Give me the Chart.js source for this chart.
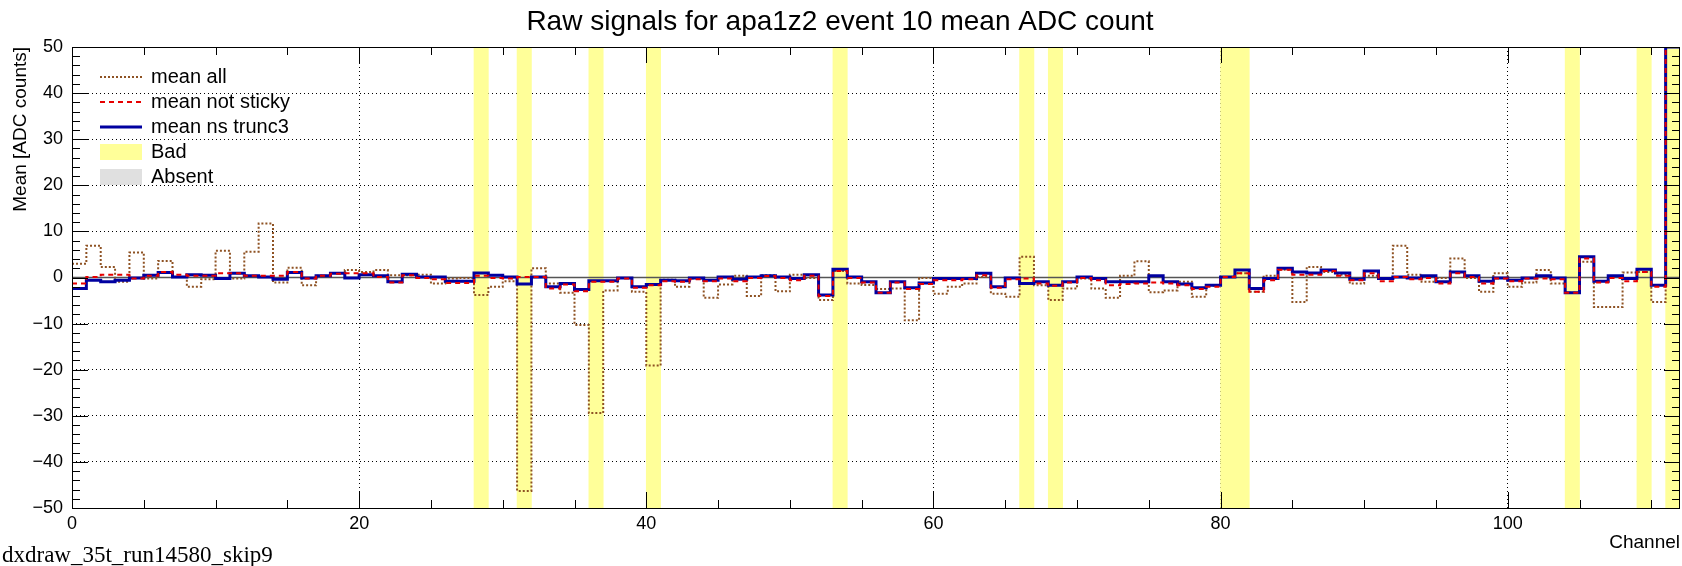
<!DOCTYPE html>
<html>
<head>
<meta charset="utf-8">
<script src="https://cdn.jsdelivr.net/npm/chart.js@4.4.0/dist/chart.umd.min.js"></script>
<style>
  html, body { margin: 0; padding: 0; background: #fff; }
  #wrap { position: relative; width: 1682px; height: 566px; }
  #footer { position: absolute; left: 2px; top: 543px; font: 23px "Liberation Serif", serif; line-height: 23px; color: #000; white-space: nowrap; }
</style>
</head>
<body>
<div id="wrap">
  <canvas id="rawChart" width="1682" height="566"></canvas>
  <div id="footer">dxdraw_35t_run14580_skip9</div>
</div>
<script>
// one value per channel, channel i covers [i, i+1)
const channelCount = 112;

const meanAll = [
  3.0, 6.9, 2.3, -0.9, 5.4, -0.2, 3.6, 0.1, -2.0, -0.4,
  5.8, -0.2, 5.6, 11.7, -1.1, 2.1, -1.7, 0.4, 1.0, 1.6,
  1.2, 1.6, 0.5, 0.5, 0.6, -1.3, -0.2, -0.1, -3.8, -2.0,
  -0.8, -46.3, 2.0, -1.3, -3.3, -10.3, -29.4, -2.8, -0.1, -3.1,
  -19.1, -0.5, -2.0, -0.2, -4.4, -1.5, 0.4, -4.0, 0.5, -3.0,
  0.6, -0.1, -4.9, 1.4, -1.3, -1.6, -2.5, -2.4, -9.3, -0.1,
  -3.5, -2.0, -1.3, 0.1, -3.5, -4.2, 4.5, -1.7, -4.9, -2.4,
  -0.2, -2.4, -4.4, 0.4, 3.5, -3.2, -2.8, -0.9, -4.2, -1.8,
  0.1, 0.9, -3.1, 0.4, 1.7, -5.3, 2.3, 1.2, 0.6, -1.3,
  0.4, -0.2, 6.9, 0.6, -0.9, -0.1, 4.1, -0.1, -3.1, 0.9,
  -2.0, -1.1, 1.6, -1.3, -3.3, 3.4, -6.4, -6.4, 1.1, 1.2,
  -5.3, 50
];

const meanNotSticky = [
  -1.3, 0.1, 0.6, 0.6, -0.2, 0.4, 1.2, 0.6, 0.4, 0.4,
  0.9, 0.9, 0.4, 0.4, 0.4, 1.2, -0.2, 0.4, 0.8, 0.9,
  0.9, 0.1, -1.1, 0.5, -0.1, -0.4, -1.2, -1.2, 0.4, -0.1,
  -0.2, 0.1, 0.1, -2.4, -1.5, -3.0, -0.9, -0.9, -0.2, -2.2,
  -1.7, -0.8, -0.9, -0.4, -0.8, -0.2, -0.8, -0.1, 0.3, -0.1,
  -0.6, 0.4, -4.0, 1.4, -0.1, -1.1, -3.3, -1.1, -2.5, -1.4,
  -0.6, -0.6, -0.4, 0.5, -2.2, -0.4, -0.2, -1.3, -1.8, -1.1,
  -0.1, -0.6, -1.7, -1.4, -1.3, -1.1, -1.3, -1.7, -2.5, -2.0,
  0.1, 0.9, -3.1, -0.6, 1.7, 0.6, 0.6, 1.4, 0.4, -0.6,
  0.9, -0.8, 0.1, -0.4, -0.1, -1.3, 0.9, 0.1, -1.3, -0.2,
  -0.8, -0.2, -0.2, -0.4, -3.3, 4.1, -1.1, -0.1, -0.8, 1.2,
  -2.0, 50
];

const meanTrunc3 = [
  -2.4, -0.6, -0.9, -0.6, -0.1, 0.5, 1.1, 0.1, 0.6, 0.5,
  -0.2, 0.9, 0.4, 0.1, -0.4, 1.1, -0.1, 0.4, 0.9, -0.1,
  0.6, 0.4, -0.9, 0.7, 0.1, 0.1, -0.8, -0.8, 1.0, 0.5,
  0.1, -1.4, 0.1, -2.0, -1.3, -2.6, -0.7, -0.7, -0.1, -2.0,
  -1.5, -0.6, -0.7, -0.1, -0.6, 0.1, -0.4, 0.1, 0.4, 0.1,
  -0.2, 0.6, -3.8, 1.8, 0.1, -0.9, -3.3, -0.9, -2.2, -1.2,
  -0.2, -0.2, -0.2, 0.9, -2.0, -0.1, -1.3, -0.9, -1.7, -0.9,
  0.1, -0.2, -0.9, -0.9, -0.9, 0.4, -0.9, -1.4, -2.2, -1.7,
  0.1, 1.6, -2.4, -0.2, 2.0, 1.2, 1.0, 1.6, 1.0, -0.4,
  1.4, -0.2, 0.1, -0.1, 0.4, -0.9, 1.2, 0.4, -0.8, -0.1,
  -0.6, -0.1, 0.4, -0.1, -3.3, 4.5, -0.8, 0.4, -0.2, 1.8,
  -1.7, 50
];

const badChannels = [28, 31, 36, 40, 53, 66, 68, 80, 81, 104, 109, 111];

const yMin = -50;
const yMax = 50;
const xMajorStep = 20;
const xMinorStep = 5;
const yMajorStep = 10;
const yMinorStep = 2;

const colors = {
  all: '#8e5223',
  notSticky: '#e60000',
  trunc3: '#0000a0',
  bad: '#ffff99',
  absent: '#e0e0e0'
};

// histogram as stepped line: point at bin low edge, plus closing point at the last edge
const toSteps = vals => vals.map((v, i) => ({ x: i, y: v })).concat([{ x: vals.length, y: vals[vals.length - 1] }]);

const sans = 'Liberation Sans, Arial, Helvetica, sans-serif';

const rootStyle = {
  id: 'rootStyle',
  afterDatasetDraw(chart, args) {
    // zero line sits above the bad-channel bands but under the histograms
    if (chart.data.datasets[args.index].label !== 'Bad') return;
    const { ctx, chartArea: a } = chart;
    const py = chart.scales.y.getPixelForValue(0);
    ctx.save();
    ctx.strokeStyle = '#555';
    ctx.lineWidth = 1.5;
    ctx.beginPath();
    ctx.moveTo(a.left, py);
    ctx.lineTo(a.right, py);
    ctx.stroke();
    ctx.restore();
  },
  afterDatasetsDraw(chart) {
    const { ctx, chartArea: a, scales: { x, y } } = chart;
    ctx.save();
    ctx.strokeStyle = '#000';
    ctx.lineWidth = 1;
    ctx.beginPath();
    // ticks pointing inwards, on all four sides
    for (let v = x.min; v <= x.max; v += xMinorStep) {
      const px = Math.round(x.getPixelForValue(v)) + 0.5;
      const len = v % xMajorStep === 0 ? 16 : 8;
      ctx.moveTo(px, a.bottom); ctx.lineTo(px, a.bottom - len);
      ctx.moveTo(px, a.top); ctx.lineTo(px, a.top + len);
    }
    for (let v = yMin; v <= yMax; v += yMinorStep) {
      const py = Math.round(y.getPixelForValue(v)) + 0.5;
      const len = v % yMajorStep === 0 ? 16 : 8;
      ctx.moveTo(a.left, py); ctx.lineTo(a.left + len, py);
      ctx.moveTo(a.right, py); ctx.lineTo(a.right - len, py);
    }
    ctx.stroke();
    ctx.strokeRect(Math.round(a.left) + 0.5, Math.round(a.top) + 0.5, Math.round(a.right - a.left) - 1, Math.round(a.bottom - a.top));
    ctx.restore();
  },
  afterDraw(chart, args, opts) {
    const { ctx } = chart;
    const ds = chart.data.datasets;
    ctx.save();
    ctx.font = '20px ' + sans;
    ctx.textBaseline = 'middle';
    ctx.fillStyle = '#000';
    opts.entries.forEach((name, i) => {
      const cy = opts.top + i * opts.rowStep;
      const d = ds.find(s => s.label === name);
      if (d && d.type !== 'bar') {
        ctx.strokeStyle = d.borderColor;
        ctx.lineWidth = d.borderWidth;
        ctx.setLineDash(d.borderDash || []);
        ctx.beginPath();
        ctx.moveTo(opts.symLeft, cy);
        ctx.lineTo(opts.symRight, cy);
        ctx.stroke();
        ctx.setLineDash([]);
      } else {
        ctx.fillStyle = d ? d.backgroundColor : opts.absentColor;
        ctx.fillRect(opts.symLeft, cy - 8, opts.symRight - opts.symLeft, 16);
      }
      ctx.fillStyle = '#000';
      ctx.fillText(name, opts.textLeft, cy);
    });
    ctx.restore();
  }
};

new Chart(document.getElementById('rawChart'), {
  type: 'line',
  data: {
    datasets: [
      {
        label: 'mean not sticky',
        data: toSteps(meanNotSticky),
        borderColor: colors.notSticky,
        borderWidth: 2,
        borderDash: [5, 4],
        stepped: true,
        pointRadius: 0,
        borderJoinStyle: 'miter',
        order: 1
      },
      {
        label: 'mean ns trunc3',
        data: toSteps(meanTrunc3),
        borderColor: colors.trunc3,
        borderWidth: 3,
        stepped: true,
        pointRadius: 0,
        borderJoinStyle: 'miter',
        order: 2
      },
      {
        label: 'mean all',
        data: toSteps(meanAll),
        borderColor: colors.all,
        borderWidth: 2,
        borderDash: [2, 2],
        stepped: true,
        pointRadius: 0,
        borderJoinStyle: 'miter',
        order: 3
      },
      {
        type: 'bar',
        label: 'Bad',
        data: badChannels.map(c => ({ x: c + 0.5, y: [yMin, yMax] })),
        backgroundColor: colors.bad,
        borderWidth: 0,
        barPercentage: 1,
        categoryPercentage: 1,
        grouped: false,
        order: 10
      }
    ]
  },
  options: {
    responsive: false,
    animation: false,
    devicePixelRatio: 1,
    events: [],
    layout: { padding: { left: 0, right: 2, top: 0, bottom: 0 } },
    plugins: {
      legend: { display: false },
      tooltip: { enabled: false },
      title: {
        display: true,
        text: 'Raw signals for apa1z2 event 10 mean ADC count',
        color: '#000',
        font: { family: sans, size: 28, weight: 'normal' },
        padding: { top: 5, bottom: 8.4 }
      },
      rootStyle: {
        entries: ['mean all', 'mean not sticky', 'mean ns trunc3', 'Bad', 'Absent'],
        absentColor: colors.absent,
        top: 77,
        rowStep: 25,
        symLeft: 100,
        symRight: 142,
        textLeft: 151
      }
    },
    scales: {
      x: {
        type: 'linear',
        min: 0,
        max: channelCount,
        offset: false,
        afterFit: s => { s.height = 58; },
        grid: { color: '#000', lineWidth: 1, drawTicks: false, offset: false },
        border: { display: false, dash: [1, 3] },
        ticks: {
          stepSize: xMajorStep,
          includeBounds: false,
          autoSkip: false,
          maxRotation: 0,
          padding: 5,
          color: '#000',
          font: { family: sans, size: 18 }
        },
        title: {
          display: true,
          text: 'Channel',
          align: 'end',
          color: '#000',
          font: { family: sans, size: 19 },
          padding: { top: 0, bottom: 12 }
        }
      },
      y: {
        type: 'linear',
        min: yMin,
        max: yMax,
        afterFit: s => { s.width = 72; },
        grid: { color: '#000', lineWidth: 1, drawTicks: false },
        border: { display: false, dash: [1, 3] },
        ticks: {
          stepSize: yMajorStep,
          padding: 9,
          color: '#000',
          font: { family: sans, size: 18 },
          callback: v => String(v).replace('-', '\u2212')
        },
        title: {
          display: true,
          text: 'Mean [ADC counts]',
          align: 'end',
          color: '#000',
          font: { family: sans, size: 19 },
          padding: { top: 9, bottom: 0 }
        }
      }
    }
  },
  plugins: [rootStyle]
});
</script>
</body>
</html>
